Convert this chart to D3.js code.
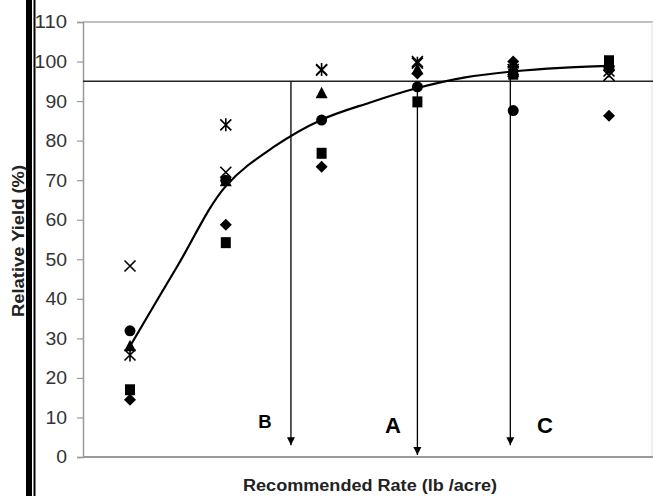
<!DOCTYPE html>
<html>
<head>
<meta charset="utf-8">
<title>relative yield</title>
<script src="https://d3js.org/d3.v7.min.js"></script>
<style>
  body { margin: 0; background: #fff; }
  svg { display: block; font-family: "Liberation Sans", Arial, sans-serif; }
</style>
</head>
<body>
<div id="chart"></div>
<script>
// Rate groups (no labels on the x axis in the original)
var rates = [1, 2, 3, 4, 5, 6];
var yTicks = [0, 10, 20, 30, 40, 50, 60, 70, 80, 90, 100, 110];

// Relative yield (%) for each site / series
var diamond  = [14.5, 58.7, 73.4, 97.0, 100.0, 86.3];
var square   = [17.0, 54.2, 76.8, 89.8, 96.8, 100.2];
var triangle = [28.0, 69.7, 92.0, 98.0, 99.5, 99.0];
var cross    = [48.3, 72.0, 97.8, 100.0, 98.0, 96.5];
var asterisk = [25.8, 84.0, 98.0, 99.6, 97.5, 97.6];
var circle   = [31.9, 70.0, 85.2, 93.6, 87.6, 98.5];

// fitted response curve
var fittedRates = [1, 1.5, 2, 2.5, 3, 3.5, 4, 4.5, 5, 5.5, 6];
var fitted      = [28.0, 48.5, 68.5, 78.4, 85.3, 89.6, 93.3, 96.0, 97.5, 98.4, 98.9];

// arrows dropped to the rate axis
var arrowRates = [2.68, 4.0, 4.97];
var arrowTops  = [95, 95, 97.4];
var arrowEnds  = [3, 0.5, 3];
var arrowNames = ["B", "A", "C"];

var width = 653, height = 496;
var svg = d3.select("#chart").append("svg")
    .attr("width", width)
    .attr("height", height);

var x = d3.scaleLinear().domain([1, 6]).range([130, 609]);
var y = d3.scaleLinear().domain([0, 110]).range([457, 22]);

// double border at left
svg.append("rect").attr("x", 26).attr("y", 0).attr("width", 6).attr("height", height).attr("fill", "#000");
svg.append("rect").attr("x", 33.5).attr("y", 0).attr("width", 2).attr("height", height).attr("fill", "#000");

// frame
svg.append("line").attr("x1", 83).attr("x2", width).attr("y1", y(110)).attr("y2", y(110))
   .attr("stroke", "#aaa").attr("stroke-width", 1.5);
svg.append("line").attr("x1", 652).attr("x2", 652).attr("y1", y(110)).attr("y2", y(0))
   .attr("stroke", "#ddd").attr("stroke-width", 1);

// y axis
var yAxis = svg.append("g")
    .attr("transform", "translate(83,0)")
    .call(d3.axisLeft(y).tickValues(yTicks).tickSize(6).tickPadding(10));
yAxis.select(".domain").attr("stroke", "#999").attr("stroke-width", 1.5);
yAxis.selectAll(".tick line").attr("stroke", "#999").attr("stroke-width", 1.2);
yAxis.selectAll(".tick text").attr("fill", "#333")
    .attr("textLength", function(d) { return String(d).length * 10.8; })
    .attr("lengthAdjust", "spacingAndGlyphs")
    .style("font-size", "18.5px")
    .style("font-family", "'Liberation Sans', Arial, sans-serif");

// x axis line
svg.append("line").attr("x1", 83).attr("x2", width).attr("y1", y(0)).attr("y2", y(0))
   .attr("stroke", "#999").attr("stroke-width", 2);

// 95 % line
svg.append("line").attr("x1", 83).attr("x2", width).attr("y1", y(95)).attr("y2", y(95))
   .attr("stroke", "#222").attr("stroke-width", 1.5);

// arrow head
svg.append("defs").append("marker")
    .attr("id", "head")
    .attr("viewBox", "0 0 8 10")
    .attr("refX", 8).attr("refY", 5)
    .attr("markerWidth", 8).attr("markerHeight", 10)
    .attr("markerUnits", "userSpaceOnUse")
    .attr("orient", "auto")
  .append("path").attr("d", "M0,1 L8,5 L0,9 Z").attr("fill", "#000");

svg.selectAll(".arrow")
   .data(arrowRates)
   .enter()
   .append("line")
   .attr("class", "arrow")
   .attr("x1", function(d) { return x(d); })
   .attr("x2", function(d) { return x(d); })
   .attr("y1", function(d, i) { return y(arrowTops[i]); })
   .attr("y2", function(d, i) { return y(arrowEnds[i]); })
   .attr("stroke", "#000").attr("stroke-width", 1.3)
   .attr("marker-end", "url(#head)");

// fitted curve
var line = d3.line()
    .x(function(d, i) { return x(fittedRates[i]); })
    .y(function(d) { return y(d); })
    .curve(d3.curveCatmullRom.alpha(0.5));
svg.append("path").datum(fitted)
   .attr("d", line)
   .attr("fill", "none").attr("stroke", "#000").attr("stroke-width", 2.2);

// markers
function plot(values, draw) {
  var g = svg.append("g");
  values.forEach(function(v, i) {
    draw(g.append("g").attr("transform", "translate(" + x(rates[i]) + "," + y(v) + ")"));
  });
}
plot(diamond, function(g) {
  g.append("path").attr("d", "M0,-6 L6,0 L0,6 L-6,0 Z").attr("fill", "#000");
});
plot(square, function(g) {
  g.append("rect").attr("x", -5).attr("y", -5.5).attr("width", 10).attr("height", 11).attr("fill", "#000");
});
plot(triangle, function(g) {
  g.append("path").attr("d", "M0,-6.5 L6,5 L-6,5 Z").attr("fill", "#000");
});
plot(cross, function(g) {
  g.append("path").attr("d", "M-5.5,-5.5 L5.5,5.5 M-5.5,5.5 L5.5,-5.5")
   .attr("stroke", "#000").attr("stroke-width", 1.6);
});
plot(asterisk, function(g) {
  g.append("path").attr("d", "M-5.5,-5.5 L5.5,5.5 M-5.5,5.5 L5.5,-5.5 M0,-6.5 L0,6.5")
   .attr("stroke", "#000").attr("stroke-width", 1.6);
});
plot(circle, function(g) {
  g.append("circle").attr("r", 5.5).attr("fill", "#000");
});

// letters
var letterX = [265, 393, 545];
var letterY = [428, 433, 433];
var letterSize = [18.5, 22, 22];
svg.selectAll(".letter")
   .data(arrowNames)
   .enter()
   .append("text")
   .attr("class", "letter")
   .attr("x", function(d, i) { return letterX[i]; })
   .attr("y", function(d, i) { return letterY[i]; })
   .attr("text-anchor", "middle")
   .style("font-size", function(d, i) { return letterSize[i] + "px"; })
   .style("font-weight", "bold")
   .text(function(d) { return d; });

// axis titles
svg.append("text")
   .attr("x", 370).attr("y", 491)
   .attr("text-anchor", "middle")
   .attr("textLength", 254).attr("lengthAdjust", "spacingAndGlyphs")
   .style("font-size", "16px").style("font-weight", "bold").attr("fill", "#222")
   .text("Recommended Rate (lb /acre)");

svg.append("text")
   .attr("transform", "translate(24,241) rotate(-90)")
   .attr("text-anchor", "middle")
   .attr("textLength", 152).attr("lengthAdjust", "spacingAndGlyphs")
   .style("font-size", "16px").style("font-weight", "bold").attr("fill", "#222")
   .text("Relative Yield (%)");
</script>
</body>
</html>
